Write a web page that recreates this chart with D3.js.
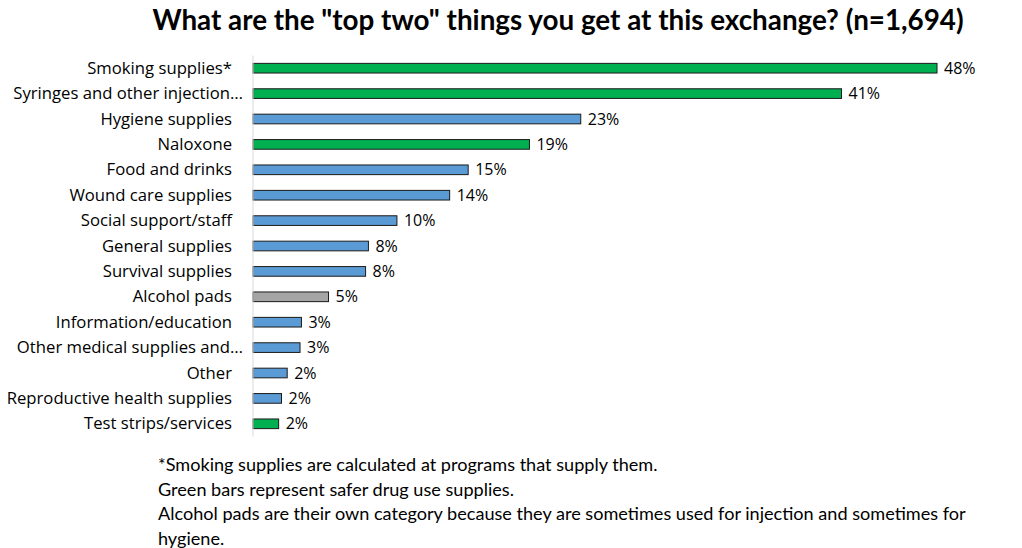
<!DOCTYPE html>
<html>
<head>
<meta charset="utf-8">
<script src="https://cdn.jsdelivr.net/npm/d3@7"></script>
<style>
  body { margin: 0; background: #fff; }
  text { fill: #000; }
</style>
</head>
<body>
<svg id="chart" width="1022" height="548"></svg>
<script>
const categories = [
  "Smoking supplies*", "Syringes and other injection…", "Hygiene supplies", "Naloxone",
  "Food and drinks", "Wound care supplies", "Social support/staff", "General supplies",
  "Survival supplies", "Alcohol pads", "Information/education ", "Other medical supplies and…",
  "Other", "Reproductive health supplies", "Test strips/services"
]
const values = [48.0, 41.3, 23.0, 19.4, 15.1, 13.8, 10.1, 8.1, 7.9, 5.3, 3.4, 3.3, 2.4, 2.0, 1.8]
const groups = ["drug", "drug", "other", "drug", "other", "other", "other", "other",
  "other", "pads", "other", "other", "other", "other", "drug"]
const title = 'What are the "top two" things you get at this exchange? (n=1,694)'
const notes = [
  "*Smoking supplies are calculated at programs that supply them.",
  "Green bars represent safer drug use supplies.",
  "Alcohol pads are their own category because they are sometimes used for injection and sometimes for",
  "hygiene."
]

const svg = d3.select("#chart")
const left = 253, plotTop = 55.5, rowH = 25.4

const x = d3.scaleLinear().domain([0, 48]).range([0, 684])
const y = d3.scaleBand().domain(categories).range([plotTop, plotTop + rowH * categories.length]).paddingInner(0.62).paddingOuter(0.31)
const color = d3.scaleOrdinal().domain(["drug", "other", "pads"]).range(["#00b050", "#5b9bd5", "#a5a5a5"])

svg.append("text")
  .attr("x", 558).attr("y", 30)
  .attr("text-anchor", "middle")
  .style("font-family", "Lato, sans-serif")
  .style("font-weight", "bold")
  .style("font-size", "27.8px")
  .text(title)

const g = svg.append("g").attr("transform", `translate(${left},0)`)

g.selectAll("rect").data(values).join("rect")
  .attr("x", 0)
  .attr("y", (d, i) => y(categories[i]))
  .attr("width", d => x(d))
  .attr("height", y.bandwidth())
  .attr("fill", (d, i) => color(groups[i]))
  .attr("stroke", "#1a1a1a")
  .attr("stroke-width", 1)

g.append("line")
  .attr("x1", 0).attr("x2", 0)
  .attr("y1", plotTop).attr("y2", plotTop + rowH * categories.length)
  .attr("stroke", "#d9d9d9")

g.selectAll(".val").data(values).join("text")
  .attr("class", "val")
  .attr("x", d => x(d) + 7)
  .attr("y", (d, i) => y(categories[i]) + y.bandwidth() / 2 + 5.5)
  .style("font-family", "'Open Sans', sans-serif")
  .style("font-size", "16px")
  .text(d => Math.round(d) + "%")

g.selectAll(".cat").data(categories).join("text")
  .attr("class", "cat")
  .attr("x", d => d.endsWith("…") ? -10 : -21)
  .attr("y", d => y(d) + y.bandwidth() / 2 + 5.5)
  .attr("text-anchor", "end")
  .style("font-family", "'Open Sans', sans-serif")
  .style("font-size", "16.7px")
  .text(d => d.trim())

svg.selectAll(".note").data(notes).join("text")
  .attr("class", "note")
  .attr("x", 158)
  .attr("y", (d, i) => 471 + i * 24.7)
  .style("font-family", "Lato, sans-serif")
  .style("font-size", "18.1px")
  .text(d => d)
</script>
</body>
</html>
